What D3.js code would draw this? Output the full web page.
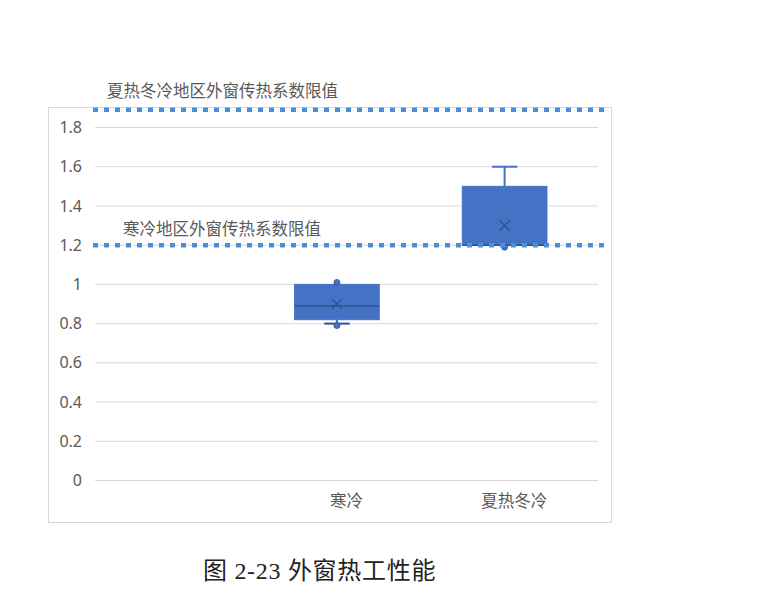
<!DOCTYPE html>
<html lang="zh">
<head>
<meta charset="UTF-8">
<title>外窗热工性能</title>
<script src="https://d3js.org/d3.v7.min.js"></script>
<style>
  body { margin: 0; background: #fff; }
  text { font-family: "Noto Sans CJK SC", "Noto Sans", sans-serif; }
</style>
</head>
<body>
<svg width="760" height="594"></svg>
<script>
// categories (the first slot is empty in the original)
const categories = ["", "寒冷", "夏热冬冷"];
// box statistics per category
const boxCats   = ["寒冷", "夏热冬冷"];
const boxMin    = [0.80, 1.20];
const boxQ1     = [0.82, 1.20];
const boxMedian = [0.89, 1.20];
const boxQ3     = [1.00, 1.50];
const boxMax    = [1.00, 1.60];
const boxMean   = [0.90, 1.30];
const boxPoints = [[1.01, 0.79], [1.19]];
// reference limit lines
const limitNames  = ["夏热冬冷地区外窗传热系数限值", "寒冷地区外窗传热系数限值"];
const limitValues = [1.89, 1.2];
const yTicks = [0, 0.2, 0.4, 0.6, 0.8, 1, 1.2, 1.4, 1.6, 1.8];

const svg = d3.select("svg");

// chart frame
svg.append("rect")
    .attr("x", 48.5).attr("y", 107.5)
    .attr("width", 563).attr("height", 415)
    .attr("fill", "#fff")
    .attr("stroke", "#d9d9d9");

const plot = { left: 95, right: 598, top: 127.5, bottom: 480.5 };

const x = d3.scaleBand().domain(categories).range([plot.left, plot.right]);
const y = d3.scaleLinear().domain([0, 1.8]).range([plot.bottom, plot.top]);

// gridlines
svg.append("g").selectAll("line")
    .data(yTicks)
    .join("line")
    .attr("x1", plot.left).attr("x2", plot.right)
    .attr("y1", d => y(d)).attr("y2", d => y(d))
    .attr("stroke", "#d9d9d9").attr("stroke-width", 1);

// y axis labels
const yAxis = svg.append("g")
    .attr("transform", `translate(${plot.left},0)`)
    .call(d3.axisLeft(y).tickValues(yTicks).tickSize(0).tickPadding(13)
        .tickFormat(d => d3.format("~g")(d)));
yAxis.select(".domain").remove();
yAxis.selectAll("text")
    .attr("fill", "#595959")
    .style("font-size", "16px")
    .style("font-family", "'Noto Sans', sans-serif");

// x axis labels
const xAxis = svg.append("g")
    .attr("transform", `translate(0,${plot.bottom})`)
    .call(d3.axisBottom(x).tickSize(0).tickPadding(15));
xAxis.select(".domain").remove();
xAxis.selectAll("text")
    .attr("fill", "#595959")
    .style("font-size", "16.5px");

// boxes
const boxColor = "#4472c4";
const darkColor = "#2f528f";
const boxData = boxCats.map((c, i) => ({
    cat: c, min: boxMin[i], q1: boxQ1[i], median: boxMedian[i],
    q3: boxQ3[i], max: boxMax[i], mean: boxMean[i], points: boxPoints[i]
}));
const bw = x.bandwidth() * 0.505;
const shift = -x.bandwidth() * 0.057;
const cx = d => x(d.cat) + x.bandwidth() / 2 + shift;

const boxes = svg.append("g").selectAll("g")
    .data(boxData)
    .join("g");

// whiskers
boxes.append("line")
    .attr("x1", cx).attr("x2", cx)
    .attr("y1", d => y(d.max)).attr("y2", d => y(d.q3))
    .attr("stroke", boxColor).attr("stroke-width", 2);
boxes.append("line")
    .attr("x1", cx).attr("x2", cx)
    .attr("y1", d => y(d.min)).attr("y2", d => y(d.q1))
    .attr("stroke", boxColor).attr("stroke-width", 2);
boxes.filter(d => d.max > d.q3).append("line")
    .attr("x1", d => cx(d) - bw * 0.15).attr("x2", d => cx(d) + bw * 0.15)
    .attr("y1", d => y(d.max)).attr("y2", d => y(d.max))
    .attr("stroke", boxColor).attr("stroke-width", 2);
boxes.filter(d => d.min < d.q1).append("line")
    .attr("x1", d => cx(d) - bw * 0.15).attr("x2", d => cx(d) + bw * 0.15)
    .attr("y1", d => y(d.min)).attr("y2", d => y(d.min))
    .attr("stroke", darkColor).attr("stroke-width", 2);

// box body
boxes.append("rect")
    .attr("x", d => cx(d) - bw / 2)
    .attr("y", d => y(d.q3))
    .attr("width", bw)
    .attr("height", d => y(d.q1) - y(d.q3))
    .attr("fill", boxColor)
    .attr("stroke", boxColor);

// median
boxes.append("line")
    .attr("x1", d => cx(d) - bw / 2).attr("x2", d => cx(d) + bw / 2)
    .attr("y1", d => y(d.median)).attr("y2", d => y(d.median))
    .attr("stroke", darkColor).attr("stroke-width", 1.5);

// mean marker (x)
boxes.append("path")
    .attr("d", d => {
        const px = cx(d), py = y(d.mean), s = 5;
        return `M${px - s},${py - s}L${px + s},${py + s}M${px + s},${py - s}L${px - s},${py + s}`;
    })
    .attr("stroke", darkColor).attr("stroke-width", 1.3).attr("fill", "none");

// inner points
boxes.each(function(d) {
    d3.select(this).selectAll("circle")
        .data(d.points)
        .join("circle")
        .attr("cx", cx(d))
        .attr("cy", p => y(p))
        .attr("r", 3)
        .attr("fill", boxColor)
        .attr("stroke", darkColor)
        .attr("stroke-width", 0.8);
});

// dotted limit lines
svg.append("g").selectAll("line")
    .data(limitValues)
    .join("line")
    .attr("x1", 93).attr("x2", 607)
    .attr("y1", d => y(d)).attr("y2", d => y(d))
    .attr("stroke", "#4a8fdc")
    .attr("stroke-width", 4.5)
    .attr("stroke-dasharray", "5,6");

// limit labels
const labelX = [107, 123];
const labelGap = [13, 10];
svg.append("g").selectAll("text")
    .data(limitNames)
    .join("text")
    .attr("x", (d, i) => labelX[i])
    .attr("y", (d, i) => y(limitValues[i]) - labelGap[i])
    .attr("fill", "#595959")
    .style("font-size", "16.5px")
    .text(d => d);

// caption
svg.append("text")
    .attr("x", 203).attr("y", 579)
    .attr("fill", "#222")
    .style("font-size", "24px")
    .style("letter-spacing", "0.7px")
    .style("font-family", "'Liberation Serif', 'Noto Sans CJK SC', serif")
    .text("图 2-23 外窗热工性能");
</script>
</body>
</html>
